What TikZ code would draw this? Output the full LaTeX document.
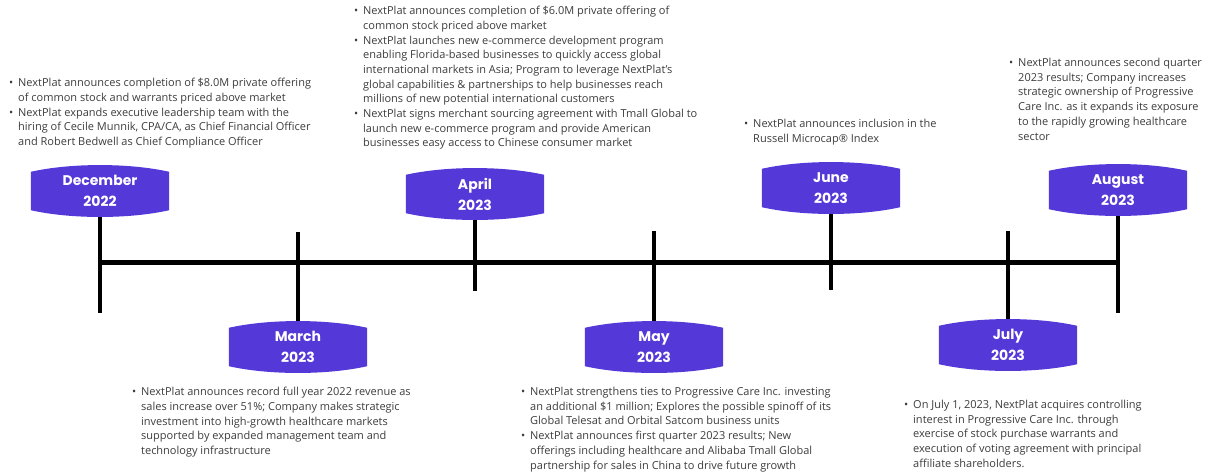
\documentclass[tikz,border=0pt]{standalone}
\usepackage{fontspec}
\setmainfont{Open Sans}
\newfontfamily\badgefont{Poppins}
\usepackage{tikz}
\usetikzlibrary{backgrounds}
\definecolor{npurple}{RGB}{84,56,216}
\definecolor{ntext}{RGB}{60,60,60}
\newcommand{\evbul}{\makebox[9pt][l]{\textbullet}}
\newcommand{\evcont}{\hspace*{9pt}}

\begin{document}
\begin{tikzpicture}[
    x=1pt, y=-1pt,
    badge/.style = {minimum width=138pt, minimum height=38pt, inner sep=0pt, align=center, text=white, font=\badgefont\bfseries\fontsize{14}{21}\selectfont},
    events/.style = {anchor=north west, inner sep=0pt, align=left, text=ntext, font=\fontsize{11}{14.7}\selectfont},
    timeline/.style = {line width=5pt, draw=black},
    tick/.style = {line width=3.5pt, draw=black}
  ]
  \useasboundingbox (0,0) rectangle (1209,475);

  % month badges
  \node (dec) [badge] at (100,191) {December\\2022};
  \node (mar) [badge] at (298,347) {March\\2023};
  \node (apr) [badge] at (475,194) {April\\2023};
  \node (may) [badge] at (654,347) {May\\2023};
  \node (jun) [badge] at (831,188) {June\\2023};
  \node (jul) [badge] at (1008,345) {July\\2023};
  \node (aug) [badge] at (1118,190) {August\\2023};

  % events
  \node (dec-txt) [events] at (9,78) {\evbul NextPlat announces completion of \$8.0M private offering\\
    \evcont of common stock and warrants priced above market\\
    \evbul NextPlat expands executive leadership team with the\\
    \evcont hiring of Cecile Munnik, CPA/CA, as Chief Financial Officer\\
    \evcont and Robert Bedwell as Chief Compliance Officer};
  \node (apr-txt) [events] at (354,6) {\evbul NextPlat announces completion of \$6.0M private offering of\\
    \evcont common stock priced above market\\
    \evbul NextPlat launches new e-commerce development program\\
    \evcont enabling Florida-based businesses to quickly access global\\
    \evcont international markets in Asia; Program to leverage NextPlat’s\\
    \evcont global capabilities \& partnerships to help businesses reach\\
    \evcont millions of new potential international customers\\
    \evbul NextPlat signs merchant sourcing agreement with Tmall Global to\\
    \evcont launch new e-commerce program and provide American\\
    \evcont businesses easy access to Chinese consumer market};
  \node (jun-txt) [events] at (744,119) {\evbul NextPlat announces inclusion in the\\
    \evcont Russell Microcap® Index};
  \node (aug-txt) [events] at (1009,58) {\evbul NextPlat announces second quarter\\
    \evcont 2023 results; Company increases\\
    \evcont strategic ownership of Progressive\\
    \evcont Care Inc. as it expands its exposure\\
    \evcont to the rapidly growing healthcare\\
    \evcont sector};
  \node (mar-txt) [events] at (132,387) {\evbul NextPlat announces record full year 2022 revenue as\\
    \evcont sales increase over 51\%; Company makes strategic\\
    \evcont investment into high-growth healthcare markets\\
    \evcont supported by expanded management team and\\
    \evcont technology infrastructure};
  \node (may-txt) [events] at (521,387) {\evbul NextPlat strengthens ties to Progressive Care Inc. investing\\
    \evcont an additional \$1 million; Explores the possible spinoff of its\\
    \evcont Global Telesat and Orbital Satcom business units\\
    \evbul NextPlat announces first quarter 2023 results; New\\
    \evcont offerings including healthcare and Alibaba Tmall Global\\
    \evcont partnership for sales in China to drive future growth};
  \node (jul-txt) [events] at (904,400) {\evbul On July 1, 2023, NextPlat acquires controlling\\
    \evcont interest in Progressive Care Inc. through\\
    \evcont exercise of stock purchase warrants and\\
    \evcont execution of voting agreement with principal\\
    \evcont affiliate shareholders.};

  % tick ends and timeline
  \coordinate (dec-end) at (100,313);
  \coordinate (mar-end) at (298,232);
  \coordinate (apr-end) at (475,291);
  \coordinate (may-end) at (654,231);
  \coordinate (jun-end) at (831,290);
  \coordinate (jul-end) at (1008,231);
  \coordinate (aug-end) at (1118,313);
  \coordinate (tl-start) at (98,262);
  \coordinate (tl-end) at (1120,262);

  \begin{scope}[on background layer]
    \draw[timeline] (tl-start) -- (tl-end);
    \foreach \m in {dec,mar,apr,may,jun,jul,aug}
      \draw[tick] (\m) -- (\m-end);
    % badge outline with bulged top and bottom
    \foreach \m in {dec,mar,apr,may,jun,jul,aug}
      \fill[npurple] (\m.north west)
        .. controls ([xshift=40pt,yshift=9pt]\m.north west) and ([xshift=-40pt,yshift=9pt]\m.north east) .. (\m.north east)
        -- (\m.south east)
        .. controls ([xshift=-40pt,yshift=-9pt]\m.south east) and ([xshift=40pt,yshift=-9pt]\m.south west) .. (\m.south west)
        -- cycle;
  \end{scope}
\end{tikzpicture}
\end{document}
